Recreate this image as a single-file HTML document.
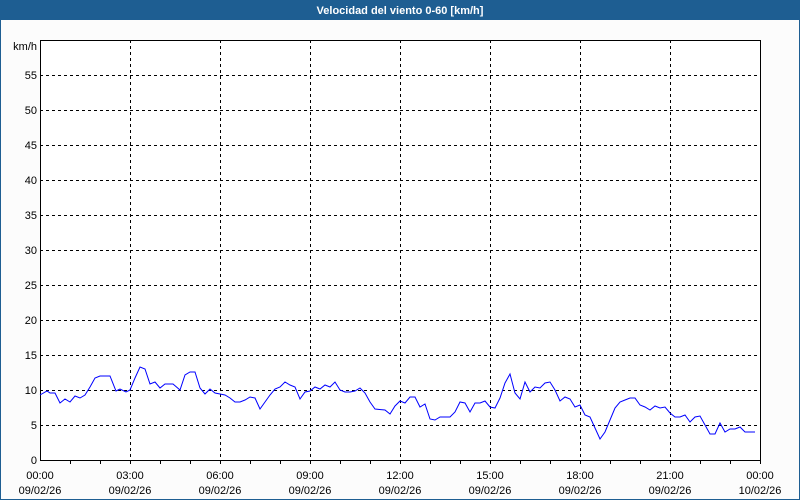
<!DOCTYPE html>
<html><head><meta charset="utf-8"><style>
html,body{margin:0;padding:0;background:#fff}
svg{display:block}
text{font-family:"Liberation Sans","DejaVu Sans",sans-serif;font-size:11px;fill:#000}
</style></head><body>
<svg width="800" height="500" xmlns="http://www.w3.org/2000/svg">
<rect x="0" y="0" width="800" height="500" fill="#fcfcfc"/>
<rect x="0.5" y="0.5" width="799" height="499" fill="none" stroke="#1e5e92"/>
<rect x="0" y="0" width="800" height="20" fill="#1e5e92"/>
<text x="400" y="14" text-anchor="middle" style="fill:#fff;font-weight:bold;font-size:11px">Velocidad del viento 0-60 [km/h]</text>
<rect x="40" y="40" width="720" height="420" fill="#fff"/>
<g stroke="#000" stroke-dasharray="3,3" stroke-width="1">
<line x1="40" y1="75.5" x2="760" y2="75.5"/><line x1="40" y1="110.5" x2="760" y2="110.5"/><line x1="40" y1="145.5" x2="760" y2="145.5"/><line x1="40" y1="180.5" x2="760" y2="180.5"/><line x1="40" y1="215.5" x2="760" y2="215.5"/><line x1="40" y1="250.5" x2="760" y2="250.5"/><line x1="40" y1="285.5" x2="760" y2="285.5"/><line x1="40" y1="320.5" x2="760" y2="320.5"/><line x1="40" y1="355.5" x2="760" y2="355.5"/><line x1="40" y1="390.5" x2="760" y2="390.5"/><line x1="40" y1="425.5" x2="760" y2="425.5"/>
<line x1="130.5" y1="40" x2="130.5" y2="460"/><line x1="220.5" y1="40" x2="220.5" y2="460"/><line x1="310.5" y1="40" x2="310.5" y2="460"/><line x1="400.5" y1="40" x2="400.5" y2="460"/><line x1="490.5" y1="40" x2="490.5" y2="460"/><line x1="580.5" y1="40" x2="580.5" y2="460"/><line x1="670.5" y1="40" x2="670.5" y2="460"/>
</g>
<rect x="40.5" y="40.5" width="720" height="420" fill="none" stroke="#000"/>
<g stroke="#000">
<line x1="70.5" y1="460" x2="70.5" y2="464"/><line x1="100.5" y1="460" x2="100.5" y2="464"/><line x1="130.5" y1="460" x2="130.5" y2="464"/><line x1="160.5" y1="460" x2="160.5" y2="464"/><line x1="190.5" y1="460" x2="190.5" y2="464"/><line x1="220.5" y1="460" x2="220.5" y2="464"/><line x1="250.5" y1="460" x2="250.5" y2="464"/><line x1="280.5" y1="460" x2="280.5" y2="464"/><line x1="310.5" y1="460" x2="310.5" y2="464"/><line x1="340.5" y1="460" x2="340.5" y2="464"/><line x1="370.5" y1="460" x2="370.5" y2="464"/><line x1="400.5" y1="460" x2="400.5" y2="464"/><line x1="430.5" y1="460" x2="430.5" y2="464"/><line x1="460.5" y1="460" x2="460.5" y2="464"/><line x1="490.5" y1="460" x2="490.5" y2="464"/><line x1="520.5" y1="460" x2="520.5" y2="464"/><line x1="550.5" y1="460" x2="550.5" y2="464"/><line x1="580.5" y1="460" x2="580.5" y2="464"/><line x1="610.5" y1="460" x2="610.5" y2="464"/><line x1="640.5" y1="460" x2="640.5" y2="464"/><line x1="670.5" y1="460" x2="670.5" y2="464"/><line x1="700.5" y1="460" x2="700.5" y2="464"/><line x1="730.5" y1="460" x2="730.5" y2="464"/><line x1="760.5" y1="460" x2="760.5" y2="464"/>
</g>
<g text-anchor="end">
<text x="37" y="50">km/h</text>
<text x="37" y="79">55</text><text x="37" y="114">50</text><text x="37" y="149">45</text><text x="37" y="184">40</text><text x="37" y="219">35</text><text x="37" y="254">30</text><text x="37" y="289">25</text><text x="37" y="324">20</text><text x="37" y="359">15</text><text x="37" y="394">10</text><text x="37" y="429">5</text><text x="37" y="464">0</text>
</g>
<g text-anchor="middle">
<text x="40" y="479">00:00</text><text x="40" y="494">09/02/26</text>
<text x="130" y="479">03:00</text><text x="130" y="494">09/02/26</text>
<text x="220" y="479">06:00</text><text x="220" y="494">09/02/26</text>
<text x="310" y="479">09:00</text><text x="310" y="494">09/02/26</text>
<text x="400" y="479">12:00</text><text x="400" y="494">09/02/26</text>
<text x="490" y="479">15:00</text><text x="490" y="494">09/02/26</text>
<text x="580" y="479">18:00</text><text x="580" y="494">09/02/26</text>
<text x="670" y="479">21:00</text><text x="670" y="494">09/02/26</text>
<text x="760" y="479">00:00</text><text x="760" y="494">10/02/26</text>
</g>
<polyline fill="none" stroke="#0000ff" stroke-width="1" points="40,395 47,391 50,393 55,393 60,403 65,399 70,402 75,396 80,398 85,395 90,387 95,378 100,376 110,376 116,391 120,389 126,392 130,390 135,378 140,367 145,369 150,384 155,382 160,388 165,384 173,384 180,390 185,375 190,372 195,372 200,388 205,394 210,389 215,393 220,394 225,395 230,398 235,402 240,402 245,400 250,397 255,398 260,409 265,402 270,395 275,389 280,387 285,382 290,385 295,387 300,399 305,392 310,391 315,387 320,389 325,385 330,387 335,382 340,390 345,392 350,392 355,391 360,388 365,393 370,402 375,409 385,410 390,414 395,406 400,401 405,403 410,397 415,397 420,407 425,404 430,419 435,420 440,417 450,417 455,412 460,402 465,403 470,412 475,403 480,403 485,401 490,407 495,408 500,398 505,383 510,374 515,393 520,399 525,382 530,392 535,387 540,388 545,383 550,382 555,390 560,401 565,397 570,399 575,407 580,405 585,415 590,417 595,428 600,439 605,432 610,420 615,408 620,402 625,400 630,398 635,398 640,405 645,407 650,410 655,406 660,408 665,407 670,413 675,417 680,417 685,415 690,422 695,417 700,416 705,425 710,434 715,434 720,423 725,432 730,429 735,429 740,427 745,432 750,432 755,432"/>
</svg>
</body></html>
